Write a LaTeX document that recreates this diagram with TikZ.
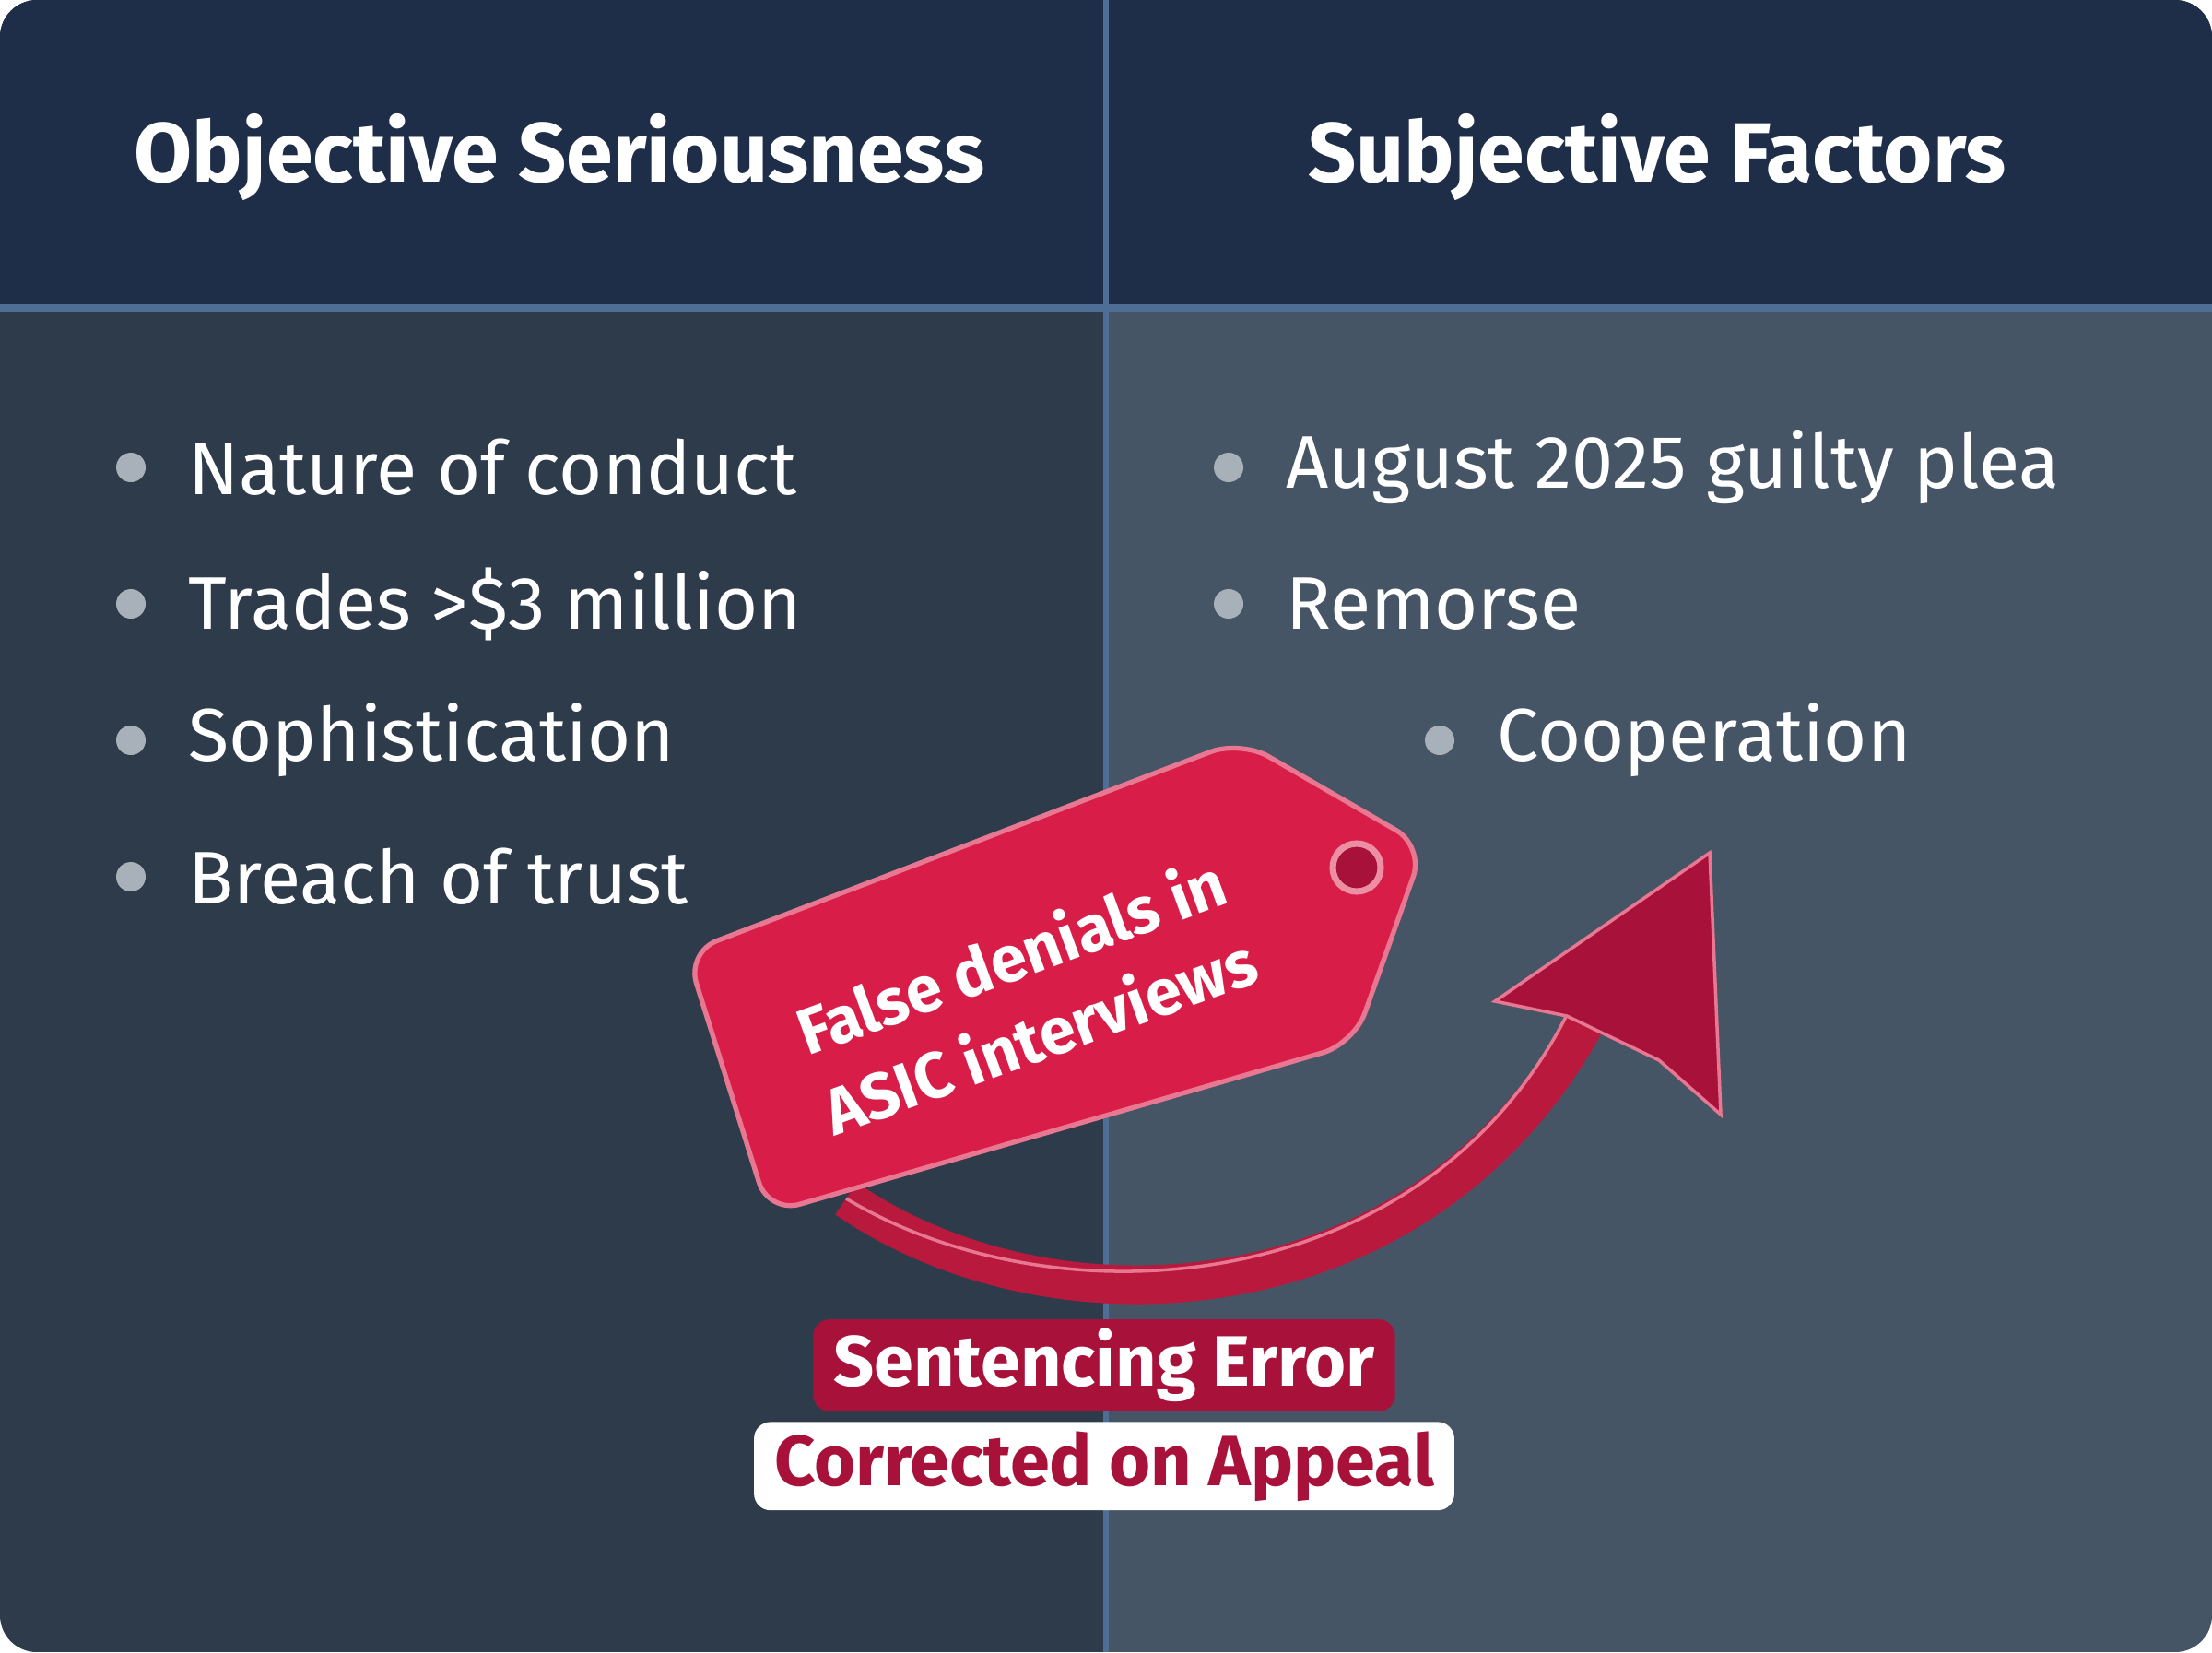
\documentclass[tikz,border=0pt]{standalone}
\usepackage{fontspec}
\setmainfont{Fira Sans}
\usetikzlibrary{positioning}
\definecolor{headbg}{HTML}{1E2E48}
\definecolor{leftbg}{HTML}{2D3B4B}
\definecolor{rightbg}{HTML}{465566}
\definecolor{tagred}{HTML}{D81E48}
\definecolor{darkred}{HTML}{A8123A}
\definecolor{dotgrey}{HTML}{A8B0BA}
\definecolor{lineblue}{HTML}{4F6E95}
\tikzset{
  title/.style={text=white,font=\fontsize{26}{31}\selectfont\bfseries},
  item/.style={text=white,anchor=west,font=\fontsize{23}{28}\selectfont},
  dot/.style={circle,fill=dotgrey,inner sep=0pt,minimum size=0.32cm},
  badge/.style={rounded corners=0.18cm,inner xsep=0.22cm,inner ysep=0.1cm,font=\fontsize{22}{26}\selectfont\bfseries}
}
\begin{document}
\begin{tikzpicture}[>=latex]
  \useasboundingbox (0,0) rectangle (24,-17.92);
  % panels
  \begin{scope}
    \clip[rounded corners=0.4cm] (0,0) rectangle (24,-17.92);
    \fill[leftbg] (0,0) rectangle (12,-17.92);
    \fill[rightbg] (12,0) rectangle (24,-17.92);
    \fill[headbg] (0,0) rectangle (24,-3.34);
    \draw[lineblue,line width=2pt] (0,-3.34)--(24,-3.34);
    \draw[lineblue,line width=1.5pt] (12,0)--(12,-17.92);
  \end{scope}
  % headings
  \node[title] (hl) at (6.07,-1.71) {Objective Seriousness};
  \node[title] (hr) at (17.98,-1.71) {Subjective Factors};
  % left column
  \foreach \t [count=\i] in {Nature of conduct,Trades >\$3 million,Sophistication,Breach of trust}{
    \node[dot] (ld\i) at (1.42,-5.07-1.48*\i+1.48) {};
    \node[item] (lt\i) at (1.92,-5.07-1.48*\i+1.48) {\t};
  }
  % right column
  \node[dot] (rd1) at (13.33,-5.07) {};
  \node[item] (rt1) at (13.83,-5.07) {August 2025 guilty plea};
  \node[dot] (rd2) at (13.33,-6.55) {};
  \node[item] (rt2) at (13.83,-6.55) {Remorse};
  \node[dot] (rd3) at (15.62,-8.03) {};
  \node[item] (rt3) at (16.12,-8.03) {Cooperation};
  % arrow
  \coordinate (as) at (9.18,-13.0);
  \coordinate (ae) at (17.3,-10.9);
  \draw[tagred!85!black,line width=0.42cm] (as) .. controls (11.5,-14.6) and (15.6,-14.3) .. (ae);
  \draw[tagred!60!white,line width=1pt] (as) .. controls (11.5,-14.4) and (15.6,-14.1) .. (17.1,-10.8);
  \fill[darkred,draw=tagred!60!white,line width=1pt] (18.55,-9.25)--(16.22,-10.86)--(17.0,-11.02)--(18.0,-11.5)--(18.67,-12.09)--cycle;
  % tag
  \fill[tagred,draw=tagred!60!white,line width=1.5pt,rounded corners=0.35cm]
    (7.45,-10.33)--(13.46,-8.03)--(15.45,-9.18)--(14.69,-11.32)--(8.34,-13.16)--cycle;
  \draw[tagred!50!white,line width=2pt,fill=darkred] (14.72,-9.41) circle (0.26);
  \node[text=white,rotate=20,align=center,font=\fontsize{20}{26}\selectfont\bfseries] (tag) at (11.12,-10.79) {False denials in\\ASIC interviews};
  % result badges
  \node[badge,fill=darkred,text=white] (err) at (11.98,-14.81) {Sentencing Error};
  \node[badge,fill=white,text=darkred,below=0.1cm of err] (app) {Corrected on Appeal};
\end{tikzpicture}
\end{document}
